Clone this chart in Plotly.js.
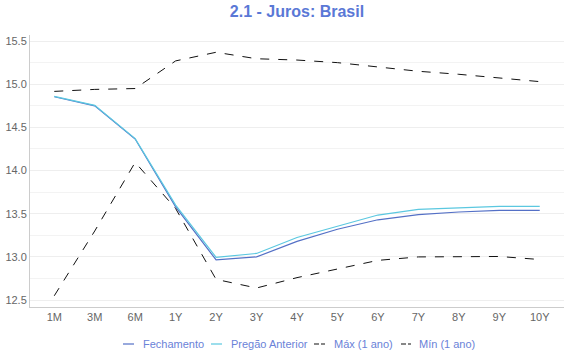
<!DOCTYPE html>
<html><head><meta charset="utf-8">
<script src="https://cdn.plot.ly/plotly-3.0.1.min.js"></script>
<style>body{margin:0;padding:0;background:#fff}#chart{width:570px;height:360px}</style>
</head><body><div id="chart"></div>
<script>
var categories = ["1M","3M","6M","1Y","2Y","3Y","4Y","5Y","6Y","7Y","8Y","9Y","10Y"];
var fechamento = [14.855,14.75,14.365,13.58,12.965,13.0,13.18,13.32,13.43,13.49,13.52,13.54,13.54];
var pregaoAnterior = [14.86,14.755,14.37,13.6,12.995,13.04,13.225,13.357,13.485,13.55,13.57,13.585,13.585];
var maxAno = [14.917,14.94,14.95,15.27,15.37,15.295,15.28,15.25,15.2,15.15,15.115,15.07,15.03];
var minAno = [12.55,13.3,14.095,13.56,12.74,12.64,12.76,12.86,12.96,13.0,13.0,13.005,12.97];
var yTicks = [12.5,13.0,13.5,14.0,14.5,15.0,15.5];
var seriesNames = ["Fechamento","Pregão Anterior","Máx (1 ano)","Mín (1 ano)"];
var seriesColors = ["#5470c6","#5bc8e0","#111111","#111111"];
var seriesDash = ["solid","solid","dash","dash"];
var seriesData = [fechamento,pregaoAnterior,maxAno,minAno];

var traces = seriesData.map(function(d,i){
  return {x:categories,y:d,name:seriesNames[i],type:"scatter",mode:"lines",
    line:{color:seriesColors[i],width:i<2?1.2:1,dash:seriesDash[i]}};
});

// custom legend (short symbols like the reference)
var L = 30, W = 534, T = 35, H = 272;
function px(x){return (x-L)/W;}
function py(y){return (T+H-y)/H;}
var legY = 344;
var legSym = [[123,134],[211,222],[314,325],[401,411]];
var legText = [141,229,332,417];
var shapes = [], annotations = [];
for (var i=0;i<4;i++){
  shapes.push({type:"line",xref:"paper",yref:"paper",x0:px(legSym[i][0]),x1:px(legSym[i][1]),y0:py(legY),y1:py(legY),
    line:{color:seriesColors[i],width:1.2,dash:i<2?"solid":"5px,2px"}});
  annotations.push({xref:"paper",yref:"paper",x:px(legText[i]),y:py(legY),xanchor:"left",yanchor:"middle",
    text:seriesNames[i],showarrow:false,font:{size:11,color:"#6a82d8"}});
}

var layout = {
 width:570,height:360,
 margin:{l:L,r:570-L-W,t:T,b:360-T-H},
 paper_bgcolor:"#fff",plot_bgcolor:"#fff",
 font:{family:"Liberation Sans, Arial, sans-serif",size:11,color:"#666"},
 title:{text:"<b>2.1 - Juros: Brasil</b>",font:{size:16,color:"#5a78d6"},xref:"paper",x:0.5,xanchor:"center",y:0.985,yanchor:"top"},
 xaxis:{type:"category",range:[-0.6,12.6],showgrid:false,showline:true,linecolor:"#ccc",linewidth:1,ticks:"",tickfont:{size:11,color:"#666"},zeroline:false},
 yaxis:{range:[12.42,15.57],tickvals:yTicks,ticktext:yTicks.map(function(v){return v.toFixed(1);}),showgrid:true,gridcolor:"#eee",gridwidth:1,
   minor:{dtick:0.25,showgrid:true,gridcolor:"#f3f3f3",tick0:12.25},
   showline:true,linecolor:"#ccc",linewidth:1,ticks:"",tickfont:{size:11,color:"#666"},zeroline:false},
 showlegend:false,
 shapes:shapes,
 annotations:annotations
};
Plotly.newPlot("chart",traces,layout,{displayModeBar:false,staticPlot:true});
</script></body></html>
